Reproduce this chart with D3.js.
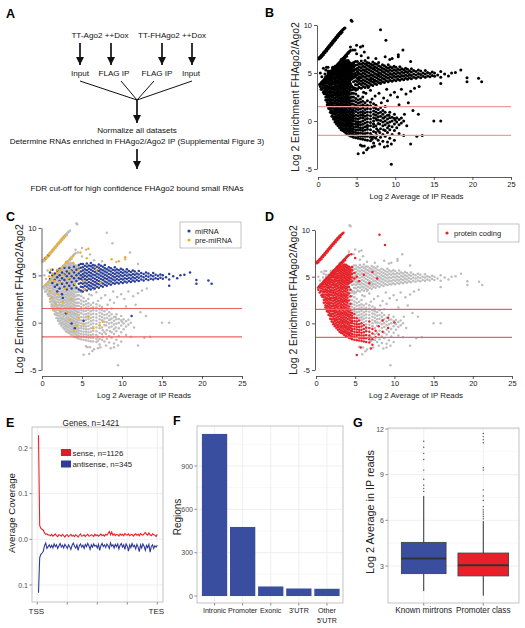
<!DOCTYPE html>
<html><head><meta charset="utf-8">
<script src="https://cdn.jsdelivr.net/npm/d3@7"></script>
<style>body{margin:0;background:#fff}svg{display:block}text{font-family:"Liberation Sans",Arial,Helvetica,sans-serif}</style>
</head><body><svg id="c" width="525" height="628"></svg>
<script>
// ================= DATA =================
// Panel A flowchart text
const flowSamples = ["TT-Ago2 ++Dox", "TT-FHAgo2 ++Dox"];
const flowLibs = ["Input", "FLAG IP", "FLAG IP", "Input"];
const flowSteps = ["Normalize all datasets", "Determine RNAs enriched in FHAgo2/Ago2 IP (Supplemental Figure 3)", "FDR cut-off for high confidence FHAgo2 bound small RNAs"];

// Panels B-D scatter: columns [x, y1, y2, ...] (x = log2 avg IP reads, y = log2 enrichment)
const xTicksScatter = [0, 5, 10, 15, 20, 25];
const yTicksScatter = [-5, 0, 5, 10];
const thresholds = [1.5, -1.5];
const proteinCoding = [
[0.1,6.45,6.6],[0.2,6.55],[0.3,6.7,6.55],[0.4,6.8],[0.5,6.9,6.75],[0.6,6.95],[0.7,7.1,6.9],[0.8,7.15],[0.9,7.3,7.1],[1.0,7.35],[1.1,7.5,7.3],[1.2,7.55],[1.3,7.7,7.5],[1.4,7.75],[1.5,7.9,7.7],[1.6,7.95],[1.7,8.1,7.9],[1.8,8.15],[1.9,8.3,8.1],[2.0,8.35],[2.1,8.5,8.3],[2.2,8.55],[2.3,8.7,8.5],[2.4,8.75],[2.5,8.9,8.7],[2.6,8.95],[2.7,9.1,8.9],[2.8,9.15],[2.9,9.25,9.1],[3.0,9.35],[3.1,9.4,9.25],[3.2,9.5],[3.3,9.55],[3.4,9.65],[3.5,9.7],
[0.3,3.85,3.6],[0.4,3.95],[0.5,4.05,3.9,3.3],[0.6,4.15],[0.7,4.2,4.05,3.0],[0.8,4.3],[0.9,4.4,4.25],[1.0,4.5],[1.1,4.6,4.45],[1.2,4.7],[1.3,4.8,4.6],[1.4,4.85],[1.5,4.95,4.8],[1.6,5.05],[1.7,5.15,5.0],[1.8,5.2],[1.9,5.3,5.15],[2.0,5.4],[2.1,5.5,5.35],[2.2,5.6],[2.3,5.65,5.5],[2.4,5.75],[2.5,5.85,5.7],[2.6,5.95],[2.7,6.05,5.9],[2.8,6.1],[2.9,6.2,6.05],[3.0,6.3],[3.1,6.4,6.25],[3.2,6.5],[3.3,6.55,6.4],[3.4,6.65],[3.5,6.75,6.6],[3.6,6.85],[3.7,6.9,6.75],[3.8,7.0],[3.9,7.1],[4.0,7.2],[4.1,7.25],[4.2,7.35],
[0.6,3.5,3.75],
[0.8,2.85,3.1,3.4,3.7,3.95],
[1.0,2.2,2.5,2.8,3.05,3.35,3.6,3.9,4.15],
[1.2,1.7,1.95,2.25,2.55,2.8,3.1,3.4,3.65,3.95,4.2,4.4],
[1.4,1.3,1.6,1.85,2.15,2.45,2.7,3.0,3.3,3.55,3.85,4.1,4.35,4.6],
[1.6,0.9,1.2,1.45,1.75,2.05,2.3,2.6,2.9,3.15,3.45,3.75,4.0,4.3,4.55,4.75],
[1.8,0.5,0.8,1.05,1.35,1.65,1.9,2.2,2.5,2.75,3.05,3.35,3.6,3.9,4.2,4.45,4.7,4.9],
[2.0,0.2,0.45,0.75,1.0,1.3,1.6,1.85,2.15,2.45,2.7,3.0,3.3,3.55,3.85,4.1,4.4,4.65,4.9,5.1],
[2.2,-0.1,0.15,0.45,0.7,1.0,1.3,1.55,1.85,2.1,2.4,2.7,2.95,3.25,3.5,3.8,4.1,4.35,4.6,4.9,5.1,5.3],
[2.4,-0.3,-0.05,0.25,0.5,0.8,1.1,1.35,1.65,1.9,2.2,2.5,2.75,3.05,3.3,3.6,3.9,4.15,4.45,4.7,4.95,5.2,5.4],
[2.6,-0.5,-0.2,0.05,0.35,0.6,0.9,1.2,1.45,1.75,2.0,2.3,2.6,2.85,3.15,3.4,3.7,4.0,4.25,4.55,4.8,5.05,5.3,5.55],
[2.8,-0.7,-0.4,-0.15,0.15,0.4,0.7,1.0,1.25,1.55,1.8,2.1,2.4,2.65,2.95,3.2,3.5,3.8,4.05,4.35,4.6,4.85,5.1,5.35,5.6,5.8],
[3.0,-0.9,-0.6,-0.35,-0.05,0.2,0.5,0.8,1.05,1.35,1.6,1.9,2.2,2.45,2.75,3.0,3.3,3.6,3.85,4.15,4.4,4.65,4.9,5.15,5.45,5.7,5.95],
[3.2,-1.0,-0.75,-0.45,-0.2,0.1,0.35,0.65,0.95,1.2,1.5,1.75,2.05,2.35,2.6,2.9,3.15,3.45,3.75,4.0,4.3,4.55,4.8,5.05,5.3,5.55,5.8,6.05],
[3.4,-1.1,-0.85,-0.55,-0.3,0.0,0.25,0.55,0.85,1.1,1.4,1.65,1.95,2.25,2.5,2.8,3.05,3.35,3.65,3.9,4.2,4.45,4.7,4.95,5.2,5.45,5.7,5.95,6.2],
[3.6,-1.25,-0.95,-0.7,-0.4,-0.15,0.15,0.4,0.7,1.0,1.25,1.55,1.8,2.1,2.4,2.65,2.95,3.2,3.5,3.8,4.05,4.35,4.6,4.85,5.1,5.35,5.6,5.85,6.1,6.3],
[3.8,-1.35,-1.05,-0.8,-0.5,-0.25,0.05,0.3,0.6,0.9,1.15,1.45,1.7,2.0,2.3,2.55,2.85,3.1,3.4,3.7,3.95,4.25,4.5,4.75,5.0,5.25,5.5,5.75,6.0,6.25],
[4.0,-1.45,-1.15,-0.9,-0.6,-0.35,-0.05,0.2,0.5,0.8,1.05,1.35,1.6,1.9,2.2,2.45,2.75,3.0,3.3,3.6,3.85,4.15,4.4,4.65,4.9,5.15,5.4,5.65,5.9,6.15],
[4.2,-1.55,-1.25,-1.0,-0.7,-0.45,-0.15,0.1,0.4,0.7,0.95,1.25,1.5,1.8,2.45,3.2,3.9,4.3,4.55,4.8,5.05,5.3,5.55,5.8,6.05],
[4.4,-1.6,-1.35,-1.05,-0.8,-0.5,-0.25,0.05,0.3,0.6,0.9,1.15,1.45,2.1,2.9,3.6,4.4,4.7,4.95,5.2,5.45,5.7,5.95],
[4.6,-1.7,-1.4,-1.15,-0.85,-0.6,-0.3,0.0,0.25,0.55,0.8,1.1,4.5,4.9,5.3,5.7,6.0],
[4.9,-1.75,-1.45,-1.2,-0.9,-0.6,-0.35,-0.05,0.25,0.6,1.0,4.8,5.4],
[5.2,-1.8,-1.5,-1.25,-0.95,-0.65,-0.4,-0.1,0.2,0.55,5.0],
[5.5,-1.85,-1.55,-1.25,-0.95,-0.7,-0.4,-0.1,0.3,4.5],
[5.8,-1.9,-1.6,-1.3,-1.0,-0.7,-0.35,0.0],
[6.1,-1.95,-1.6,-1.3,-0.95,-0.6,-0.2,5.2],
[6.4,-2.0,-1.6,-1.25,-0.85,-0.45],
[6.8,-2.05,-1.7,-1.3,-0.9,-0.5,0.2,4.3],
[7.2,-2.3,-1.7,-1.1,-0.6,5.5],
[7.6,-1.5,-0.8],[7.8,4.8],[8.0,-1.2,-0.3],[8.5,-0.9,0.3],[9.2,-0.5,0.6],[10.0,0.1],
[8.1,9.5],[8.8,8.4],[5.2,-3.4],[7.0,-2.7],[5.7,-2.6],[4.5,7.4],[5.0,7.0]
];
const miRNA = [
[0.4,6.75],[0.8,7.1],
[1.0,4.6,5.3],[1.3,4.2,5.0,5.6],[1.6,3.8,4.5,5.2],[1.9,3.3,4.0,4.8,5.5],[2.2,3.6,4.4,5.0,5.7],[2.5,3.0,4.1,4.7,5.3],
[2.8,3.8,4.5,5.1,5.8],[3.1,3.5,4.2,4.9,5.4],[3.4,3.9,4.6,5.2,5.8],[3.7,3.6,4.3,4.9,5.5],[4.0,4.0,4.7,5.3,5.9],[4.3,3.7,4.4,5.0,5.6],
[4.6,3.5,4.1,4.7,5.2,5.7,6.1],[4.85,3.4,3.8,4.2,4.6,5.0,5.4,5.8,6.2],[5.1,3.3,3.75,4.1,4.45,4.8,5.15,5.5,5.85,6.2],
[5.35,3.5,3.9,4.25,4.6,4.95,5.3,5.65,6.0],[5.6,3.4,3.8,4.15,4.5,4.85,5.2,5.55,5.9,6.25],[5.85,3.6,3.95,4.3,4.65,5.0,5.35,5.7,6.05],
[6.1,3.5,3.85,4.2,4.55,4.9,5.25,5.6,5.95,6.3],[6.35,3.7,4.05,4.4,4.75,5.1,5.45,5.8,6.1],[6.6,3.6,3.95,4.3,4.65,5.0,5.35,5.7,6.05],
[6.85,3.8,4.15,4.5,4.85,5.2,5.55,5.9],[7.1,3.7,4.05,4.4,4.75,5.1,5.45,5.8,6.15],[7.35,3.9,4.25,4.6,4.95,5.3,5.65,6.0],
[7.6,3.8,4.15,4.5,4.85,5.2,5.55,5.9],[7.85,4.0,4.35,4.7,5.05,5.4,5.75,6.1],[8.1,3.9,4.25,4.6,4.95,5.3,5.65],
[8.35,4.1,4.45,4.8,5.15,5.5,5.85],[8.6,4.0,4.35,4.7,5.05,5.4,5.75],[8.85,4.2,4.55,4.9,5.25,5.6],[9.1,4.1,4.45,4.8,5.15,5.5,5.85],
[9.35,4.25,4.6,4.95,5.3,5.65],[9.6,4.15,4.5,4.85,5.2,5.55],[9.85,4.3,4.65,5.0,5.35,5.7],[10.1,4.2,4.55,4.9,5.25,5.6],
[10.35,4.35,4.7,5.05,5.4],[10.6,4.25,4.6,4.95,5.3,5.65],[10.85,4.4,4.75,5.1,5.45],[11.1,4.3,4.65,5.0,5.35],
[11.35,4.45,4.8,5.15,5.5],[11.6,4.35,4.7,5.05,5.4],[11.85,4.5,4.85,5.2],[12.1,4.4,4.75,5.1,5.45],[12.4,4.55,4.9,5.25],
[12.7,4.45,4.8,5.15],[13.0,4.6,4.95,5.3],[13.3,4.5,4.85,5.2],[13.6,4.65,5.0],[13.9,4.55,4.9,5.25],[14.2,4.7,5.05],
[14.5,4.6,4.95],[14.8,4.75,5.1],[15.1,4.65,5.0],[15.5,4.8],[15.9,4.55,5.15,3.9],[16.4,4.9],[16.9,4.7],[17.3,5.0],
[17.8,5.05],[18.5,5.3],[19.3,4.5,4.1],[20.8,4.45],[21.2,4.1],
[3.7,-0.1],[5.2,0.2],[11.2,0.7],[4.1,-0.6],[3.0,1.0],[2.6,2.6]
];
const preMiRNA = [
[0.3,6.65],[0.5,6.8],[0.7,7.0],[0.9,7.2],[1.1,7.4],[1.3,7.6],[1.5,7.8],[1.7,8.0],[1.9,8.2],[2.1,8.4],[2.3,8.6],[2.5,8.8],[2.7,9.0],[2.9,9.15],
[0.5,4.0],[0.8,4.3],[1.1,4.55],[1.5,4.9],[1.9,5.25],[2.3,5.6],[2.7,5.95],[3.1,6.3],[3.5,6.7],[3.9,7.05],
[1.4,1.4],[1.2,2.6],[1.0,3.3],[1.7,2.0],[2.0,3.0],[2.3,1.2],[2.6,2.2],[2.9,3.6],[3.1,1.1],[3.4,0.3],[3.7,2.5],
[4.0,-0.8],[4.3,-0.3],[4.6,0.5],[5.2,-0.2],[5.8,0.6],[6.4,-0.6],[7.2,-0.3],[7.6,0.1],[2.2,4.3],[2.7,5.0],[3.3,4.7],
[3.6,5.4],[4.1,4.1],[4.6,5.6],[5.2,4.4],[5.6,6.8],[5.8,7.8],[6.8,5.6],[7.3,4.2],[8.7,6.7],[10.4,6.9],[9.6,6.5],
[4.8,7.4],[5.3,3.5],[3.9,6.3],[1.6,4.4],[1.9,5.6],[1.3,5.2],[0.9,4.9],[1.1,5.6],[3.0,6.4]
];
const otherRNA = [
[4.2,2.1,2.8,3.5],[4.4,1.8,2.5,3.25],[4.6,1.4,1.75,2.1,2.5,2.9,3.3],[4.9,1.3,1.65,2.0,2.35,2.8,3.2],
[5.2,0.85,1.2,1.5,1.85,2.2,2.6],[5.5,0.6,0.9,1.25,1.6,1.95,2.3],[5.8,0.35,0.7,1.0,1.35,1.7,2.05,2.5],
[6.1,0.15,0.5,0.85,1.2,1.55,1.9],[6.4,-0.1,0.25,0.6,0.95,1.3,1.65,2.1],[6.8,-0.15,0.55,0.9,1.25,1.6,1.95],
[7.0,-1.9,-1.5],[7.2,-0.3,0.0,0.35,0.7,1.05,1.4,1.8],[7.5,-1.8,-1.2,-0.5,0.25,0.6,0.95,1.3,1.65],
[7.8,-2.0,-1.0,-0.25,0.1,0.45,0.8,1.2],[8.1,-1.7,-0.8,0.05,0.5,0.9,1.4],[8.4,-2.1,-1.4,-0.5,-0.1,0.3,0.7,1.1],
[8.7,-1.6,-1.0,-0.4,0.0,0.45,0.9,1.5],[9.0,-2.2,-1.2,-0.7,-0.2,0.2,0.6],[9.3,-1.8,-0.9,-0.1,0.35,0.9],
[9.6,-1.4,-0.6,0.0,0.4],[9.9,-2.0,-1.0,-0.3,0.25,0.7],[10.2,-0.7,-0.1,0.35],[10.5,-1.3,-0.4,0.15],
[10.8,-0.2,0.3],[11.1,-1.5,0.0],[11.5,-0.5],[12.0,-2.4],[12.8,-1.6],[13.5,-1.5],[15.0,0.0],[15.9,0.0],[9.5,-4.5],
[5.5,-2.5],[6.0,-2.6],[6.5,-2.8],[7.3,-2.6],[8.0,-2.4],[8.6,-2.7],[9.0,-2.6],[9.5,-2.4],[5.9,-3.3],[6.3,-3.0],
[5.9,3.0],[6.2,2.9],[6.5,3.5],[6.8,3.2],[7.0,2.3],[7.4,2.6],[7.9,2.9],[8.2,1.9],[8.5,2.4],[8.9,3.3],[9.0,2.1],
[9.4,2.7],[9.9,3.0],[10.3,2.5],[10.5,1.7],[10.8,3.3],[11.4,2.8],[11.7,1.9],[12.0,3.1],[12.3,1.1],[12.5,3.4],
[13.0,0.7],[13.1,3.6],
[4.3,10.5],[4.4,10.4],[4.2,7.7],[5.0,7.9],[5.5,7.7],[6.0,7.2],[6.5,6.6],[7.5,6.5],[10.4,6.7],[11.0,7.4],[12.0,6.2],[9.3,6.4],
[0.3,5.0],[0.5,4.6],[0.2,3.8],[0.7,5.5],[0.4,3.3]
];

// Panel E metagene coverage (bins 1..100, TSS -> TES)
const coverageTicks = [0.2, 0.1, 0.0, -0.1];
const coverageTickLabels = ["0.2", "0.1", "0.0", "0.1"];
const senseCov = [0.228,0.03,0.024,0.022,0.02,0.014,0.011,0.012,0.009,0.01,
0.008,0.011,0.007,0.009,0.012,0.008,0.006,0.01,0.009,0.007,
0.011,0.008,0.005,0.009,0.01,0.006,0.008,0.011,0.007,0.009,
0.006,0.01,0.008,0.005,0.009,0.012,0.007,0.008,0.01,0.006,
0.009,0.011,0.007,0.008,0.01,0.009,0.006,0.011,0.008,0.01,
0.007,0.009,0.012,0.008,0.01,0.007,0.011,0.009,0.013,0.017,
0.01,0.016,0.009,0.012,0.008,0.011,0.01,0.007,0.012,0.009,
0.011,0.008,0.013,0.01,0.009,0.012,0.008,0.01,0.011,0.007,
0.01,0.012,0.009,0.011,0.008,0.013,0.01,0.009,0.012,0.015,
0.011,0.009,0.014,0.01,0.008,0.012,0.01,0.009,0.006,0.011];
const antisenseCov = [-0.117,-0.04,-0.033,-0.03,-0.026,-0.014,-0.008,-0.02,-0.016,-0.012,
-0.018,-0.013,-0.019,-0.01,-0.016,-0.012,-0.02,-0.014,-0.009,-0.017,
-0.013,-0.019,-0.011,-0.015,-0.02,-0.012,-0.016,-0.022,-0.013,-0.008,
-0.015,-0.019,-0.012,-0.024,-0.014,-0.01,-0.017,-0.013,-0.02,-0.011,
-0.016,-0.009,-0.014,-0.022,-0.012,-0.017,-0.01,-0.015,-0.013,-0.019,
-0.011,-0.024,-0.014,-0.009,-0.016,-0.012,-0.018,-0.01,-0.014,-0.02,
-0.008,-0.015,-0.012,-0.019,-0.011,-0.016,-0.01,-0.021,-0.013,-0.009,
-0.017,-0.012,-0.022,-0.01,-0.015,-0.026,-0.012,-0.018,-0.009,-0.016,
-0.013,-0.021,-0.011,-0.017,-0.027,-0.012,-0.019,-0.01,-0.015,-0.024,
-0.013,-0.018,-0.011,-0.028,-0.016,-0.012,-0.02,-0.014,-0.017,-0.013];
const coverageLegend = ["sense, n=1126", "antisense, n=345"];

// Panel F
const regionNames = ["Intronic", "Promoter", "Exonic", "3'UTR", "Other\n5'UTR"];
const regionCounts = [1122, 478, 66, 52, 50];
const regionTicks = [0, 300, 600, 900];

// Panel G boxplots
const boxGroups = ["Known mirtrons", "Promoter class"];
const boxLow = [1.35, 1.05];
const boxQ1 = [2.5, 2.35];
const boxMedian = [3.5, 3.05];
const boxQ3 = [4.55, 3.85];
const boxHigh = [7.6, 5.95];
const boxRelWidth = [0.75, 0.85];
const boxOutliers = [[7.9, 8.1, 8.3, 8.7, 9.3, 10.0, 10.4, 10.8, 11.2],
                     [6.1, 6.25, 6.4, 6.55, 6.7, 6.9, 7.3, 7.6, 8.0, 9.3, 9.45, 11.1, 11.3, 11.5, 11.7]];
const boxTicks = [3, 6, 9, 12];

// ================= DRAW =================
const svg = d3.select("#c");
const BLUE = "#3a4ea0", RED = "#e6222a", ORANGE = "#f3b11f", GREY = "#bdbdbd";
const expand = cols => { const o = []; cols.forEach(c => { for (let i = 1; i < c.length; i++) o.push([c[0], c[i]]); }); return o; };
const PC = expand(proteinCoding), MI = expand(miRNA), PRE = expand(preMiRNA), OT = expand(otherRNA);

// panel letters
[["A",6,18],["B",265,17],["C",6,221],["D",265,221],["E",6,427],["F",173,425],["G",353,427]].forEach(([t,x,y]) =>
  svg.append("text").attr("x",x).attr("y",y).attr("font-size",12.5).attr("font-weight","bold").text(t));

// ---------- Panel A ----------
(function(){
  const g = svg.append("g").attr("font-size", 8.1).attr("text-anchor","middle").attr("fill","#111");
  const defs = svg.append("defs");
  defs.append("marker").attr("id","ah").attr("viewBox","0 0 10 10").attr("refX",10).attr("refY",5)
    .attr("markerWidth",5).attr("markerHeight",5).attr("markerUnits","strokeWidth").attr("orient","auto")
    .append("path").attr("d","M0,0 L10,5 L0,10 z").attr("fill","#111");
  const sx = [100, 172];
  g.selectAll("text.s").data(flowSamples).join("text").attr("class","s").attr("x",(d,i)=>sx[i]).attr("y",38).text(d=>d);
  const lx = [80, 111, 162, 192];
  g.selectAll("line.a").data(lx).join("line").attr("class","a").attr("x1",d=>d).attr("x2",d=>d).attr("y1",43).attr("y2",65)
    .attr("stroke","#111").attr("stroke-width",1.7).attr("marker-end","url(#ah)");
  g.selectAll("text.l").data(flowLibs).join("text").attr("class","l").attr("x",(d,i)=>[80,114,157,191][i]).attr("y",76).text(d=>d);
  const fx = [80, 121, 154, 192];
  g.selectAll("line.f").data(fx).join("line").attr("class","f").attr("x1",d=>d).attr("y1",81).attr("x2",137).attr("y2",100).attr("stroke","#111").attr("stroke-width",1);
  g.append("line").attr("x1",137).attr("x2",137).attr("y1",100).attr("y2",123).attr("stroke","#111").attr("stroke-width",1.7).attr("marker-end","url(#ah)");
  g.append("text").attr("x",137).attr("y",133).text(flowSteps[0]);
  g.append("text").attr("x",137).attr("y",144).text(flowSteps[1]);
  g.append("line").attr("x1",137).attr("x2",137).attr("y1",149).attr("y2",169).attr("stroke","#111").attr("stroke-width",1.7).attr("marker-end","url(#ah)");
  g.append("text").attr("x",137).attr("y",191).text(flowSteps[2]);
})();

// ---------- scatter panels ----------
function scatter(o){
  const x = d3.scaleLinear().domain([0,25]).range([o.x0,o.x1]);
  const y = d3.scaleLinear().domain([-5,10]).range([o.yb,o.yt]);
  const g = svg.append("g");
  o.layers.forEach(L => {
    g.append("g").selectAll("circle").data(L.pts).join("circle")
      .attr("cx",d=>x(d[0])).attr("cy",d=>y(d[1])).attr("r",o.r).attr("fill",L.color);
  });
  g.selectAll("line.th").data(thresholds).join("line").attr("class","th")
    .attr("x1",x(0)).attr("x2",x(25)).attr("y1",d=>y(d)).attr("y2",d=>y(d))
    .attr("stroke",o.lineColor).attr("stroke-width",1.1);
  const ax = g.append("g").attr("transform",`translate(0,${o.axisY})`)
    .call(d3.axisBottom(x).tickValues(xTicksScatter).tickSize(3).tickSizeOuter(0).tickPadding(2).tickFormat(d=>String(d)));
  const ay = g.append("g").attr("transform",`translate(${o.axisX},0)`)
    .call(d3.axisLeft(y).tickValues(yTicksScatter).tickSize(3).tickSizeOuter(0).tickPadding(2).tickFormat(d=>String(d)));
  [ax,ay].forEach(a => { a.selectAll("text").attr("font-size",7.5).attr("fill","#222").attr("font-family",null);
    a.selectAll("path,line").attr("stroke","#333").attr("stroke-width",0.8); });
  g.append("text").attr("x",(o.x0+o.x1)/2+2).attr("y",o.axisY+22).attr("text-anchor","middle").attr("font-size",7.9).attr("fill","#222")
    .text("Log 2 Average of IP Reads");
  g.append("text").attr("transform",`translate(${o.axisX-18.5},${(o.yb+o.yt)/2}) rotate(-90)`).attr("text-anchor","middle")
    .attr("font-size",10.4).attr("fill","#222").text("Log 2 Enrichment FHAgo2/Ago2");
  return {g,x,y};
}
scatter({x0:318,x1:511,yb:169,yt:25,axisY:177,axisX:317,lineColor:"#f29b9b",r:1.5,
  layers:[{pts:PC.concat(MI,PRE,OT),color:"#000"}]});
scatter({x0:42,x1:242,yb:370,yt:228,axisY:376,axisX:41.5,lineColor:"#ef6060",r:1.25,
  layers:[{pts:PC.concat(OT),color:GREY},{pts:MI,color:"#2c3f98"},{pts:PRE,color:ORANGE}]});
scatter({x0:316,x1:512,yb:370,yt:230,axisY:376,axisX:315,lineColor:"#ef6060",r:1.25,
  layers:[{pts:MI.concat(PRE,OT),color:GREY},{pts:PC,color:RED}]});
// legends
(function(){
  const lc = svg.append("g");
  lc.append("rect").attr("x",180).attr("y",222).attr("width",61).attr("height",26).attr("fill","#fff").attr("stroke","#999").attr("stroke-width",0.6);
  const items = [["miRNA","#2c3f98"],["pre-miRNA",ORANGE]];
  items.forEach((d,i)=>{ lc.append("circle").attr("cx",189).attr("cy",231+i*9).attr("r",1.6).attr("fill",d[1]);
    lc.append("text").attr("x",195).attr("y",233.7+i*9).attr("font-size",7.5).attr("fill","#222").text(d[0]); });
  const ld = svg.append("g");
  ld.append("rect").attr("x",438).attr("y",224).attr("width",81).attr("height",18).attr("fill","#fff").attr("stroke","#999").attr("stroke-width",0.6);
  ld.append("circle").attr("cx",447).attr("cy",233).attr("r",1.6).attr("fill",RED);
  ld.append("text").attr("x",454).attr("y",235.7).attr("font-size",7.5).attr("fill","#222").text("protein coding");
})();

// ---------- ggplot-like helpers ----------
function panelFrame(x0,y0,x1,y1){
  svg.append("rect").attr("x",x0).attr("y",y0).attr("width",x1-x0).attr("height",y1-y0).attr("fill","#fff");
}
function panelBorder(x0,y0,x1,y1){
  svg.append("rect").attr("x",x0).attr("y",y0).attr("width",x1-x0).attr("height",y1-y0).attr("fill","none").attr("stroke","#b5b5b5").attr("stroke-width",0.8);
}
const GRID = "#ebebeb", TICK = "#555", TL = "#4d4d4d";

// ---------- Panel E ----------
(function(){
  const P = {x0:32,y0:427,x1:163,y1:602};
  panelFrame(P.x0,P.y0,P.x1,P.y1);
  const x = d3.scaleLinear().domain([0,100]).range([37.3,157.3]);
  const y = d3.scaleLinear().domain([-0.1,0.2]).range([585,448]);
  const g = svg.append("g");
  const xt = [0,25,50,75,100];
  g.selectAll("line.gx").data(xt).join("line").attr("x1",d=>x(d)).attr("x2",d=>x(d)).attr("y1",P.y0).attr("y2",P.y1).attr("stroke",GRID).attr("stroke-width",0.8);
  g.selectAll("line.gy").data(coverageTicks).join("line").attr("x1",P.x0).attr("x2",P.x1).attr("y1",d=>y(d)).attr("y2",d=>y(d)).attr("stroke",GRID).attr("stroke-width",0.8);
  const line = d3.line().x((d,i)=>x(i+1)).y(d=>y(d));
  g.append("path").datum(antisenseCov).attr("d",line).attr("fill","none").attr("stroke","#2e3c96").attr("stroke-width",1.1);
  g.append("path").datum(senseCov).attr("d",line).attr("fill","none").attr("stroke","#ee2228").attr("stroke-width",1.1);
  panelBorder(P.x0,P.y0,P.x1,P.y1);
  g.selectAll("line.ty").data(coverageTicks).join("line").attr("x1",P.x0-2.5).attr("x2",P.x0).attr("y1",d=>y(d)).attr("y2",d=>y(d)).attr("stroke",TICK).attr("stroke-width",0.7);
  g.selectAll("text.ty").data(coverageTicks).join("text").attr("x",P.x0-4).attr("y",d=>y(d)+2.5).attr("text-anchor","end").attr("font-size",7).attr("fill",TL).text((d,i)=>coverageTickLabels[i]);
  g.selectAll("line.tx").data(xt).join("line").attr("x1",d=>x(d)).attr("x2",d=>x(d)).attr("y1",P.y1).attr("y2",P.y1+2.5).attr("stroke",TICK).attr("stroke-width",0.7);
  [["TSS",0],["TES",100]].forEach(([t,v])=> g.append("text").attr("x",x(v)-1).attr("y",614).attr("text-anchor","middle").attr("font-size",8).attr("fill","#222").text(t));
  g.append("text").attr("x",91).attr("y",426).attr("text-anchor","middle").attr("font-size",8.3).attr("fill","#222").text("Genes, n=1421");
  g.append("text").attr("transform","translate(15.4,513) rotate(-90)").attr("text-anchor","middle").attr("font-size",9.6).attr("fill","#222").text("Average Coverage");
  const lcol = ["#d71f2a","#2e3c96"];
  coverageLegend.forEach((t,i)=>{
    g.append("rect").attr("x",61).attr("y",449+i*11.5).attr("width",10).attr("height",7).attr("fill",lcol[i]);
    g.append("text").attr("x",72.5).attr("y",455.5+i*11.5).attr("font-size",7.8).attr("fill","#222").text(t);
  });
})();

// ---------- Panel F ----------
(function(){
  const P = {x0:197,y0:426,x1:343,y1:603};
  panelFrame(P.x0,P.y0,P.x1,P.y1);
  const x = d3.scaleBand().domain(regionNames).range([200.5, 341]).paddingInner(0.1).paddingOuter(0.05);
  const y = d3.scaleLinear().domain([0,900]).range([596,466]);
  const g = svg.append("g");
  const minor = [150,450,750,1050];
  g.selectAll("line.gm").data(minor).join("line").attr("x1",P.x0).attr("x2",P.x1).attr("y1",d=>y(d)).attr("y2",d=>y(d)).attr("stroke","#f3f3f3").attr("stroke-width",0.6);
  g.selectAll("line.gy").data(regionTicks).join("line").attr("x1",P.x0).attr("x2",P.x1).attr("y1",d=>y(d)).attr("y2",d=>y(d)).attr("stroke",GRID).attr("stroke-width",0.8);
  g.selectAll("line.gx").data(regionNames).join("line").attr("x1",d=>x(d)+x.bandwidth()/2).attr("x2",d=>x(d)+x.bandwidth()/2).attr("y1",P.y0).attr("y2",P.y1).attr("stroke",GRID).attr("stroke-width",0.8);
  g.selectAll("rect.b").data(regionNames).join("rect").attr("x",d=>x(d)).attr("width",x.bandwidth())
    .attr("y",(d,i)=>y(regionCounts[i])).attr("height",(d,i)=>y(0)-y(regionCounts[i])).attr("fill",BLUE);
  panelBorder(P.x0,P.y0,P.x1,P.y1);
  g.selectAll("line.ty").data(regionTicks).join("line").attr("x1",P.x0-2.5).attr("x2",P.x0).attr("y1",d=>y(d)).attr("y2",d=>y(d)).attr("stroke",TICK).attr("stroke-width",0.7);
  g.selectAll("text.ty").data(regionTicks).join("text").attr("x",P.x0-4).attr("y",d=>y(d)+2.5).attr("text-anchor","end").attr("font-size",7).attr("fill",TL).text(d=>d);
  g.selectAll("line.tx").data(regionNames).join("line").attr("x1",d=>x(d)+x.bandwidth()/2).attr("x2",d=>x(d)+x.bandwidth()/2).attr("y1",P.y1).attr("y2",P.y1+2.5).attr("stroke",TICK).attr("stroke-width",0.7);
  regionNames.forEach(n=>{
    n.split("\n").forEach((t,j)=> g.append("text").attr("x",x(n)+x.bandwidth()/2).attr("y",613+j*10).attr("text-anchor","middle").attr("font-size",7.1).attr("fill","#222").text(t));
  });
  g.append("text").attr("transform","translate(180.6,517) rotate(-90)").attr("text-anchor","middle").attr("font-size",10).attr("fill","#222").text("Regions");
})();

// ---------- Panel G ----------
(function(){
  const P = {x0:388,y0:428,x1:519,y1:603};
  panelFrame(P.x0,P.y0,P.x1,P.y1);
  const unit = (P.x1-P.x0)/2.2;
  const x = d3.scalePoint().domain(boxGroups).range([P.x0+0.6*unit, P.x1-0.6*unit]);
  const y = d3.scaleLinear().domain([3,12]).range([566,429]);
  const g = svg.append("g");
  g.selectAll("line.gm").data([4.5,7.5,10.5]).join("line").attr("x1",P.x0).attr("x2",P.x1).attr("y1",d=>y(d)).attr("y2",d=>y(d)).attr("stroke","#f3f3f3").attr("stroke-width",0.6);
  g.selectAll("line.gy").data(boxTicks).join("line").attr("x1",P.x0).attr("x2",P.x1).attr("y1",d=>y(d)).attr("y2",d=>y(d)).attr("stroke",GRID).attr("stroke-width",0.8);
  g.selectAll("line.gx").data(boxGroups).join("line").attr("x1",d=>x(d)).attr("x2",d=>x(d)).attr("y1",P.y0).attr("y2",P.y1).attr("stroke",GRID).attr("stroke-width",0.8);
  const fills = [BLUE, "#e8202a"];
  boxGroups.forEach((grp,i)=>{
    const cx = x(grp), hw = boxRelWidth[i]*unit/2;
    g.append("line").attr("x1",cx).attr("x2",cx).attr("y1",y(boxLow[i])).attr("y2",y(boxHigh[i])).attr("stroke","#333").attr("stroke-width",1);
    g.append("rect").attr("x",cx-hw).attr("width",2*hw).attr("y",y(boxQ3[i])).attr("height",y(boxQ1[i])-y(boxQ3[i])).attr("fill",fills[i]).attr("stroke","#444").attr("stroke-width",0.9);
    g.append("line").attr("x1",cx-hw).attr("x2",cx+hw).attr("y1",y(boxMedian[i])).attr("y2",y(boxMedian[i])).attr("stroke","#333").attr("stroke-width",2);
    g.selectAll(null).data(boxOutliers[i]).join("circle").attr("cx",cx).attr("cy",d=>y(d)).attr("r",0.7).attr("fill","#555");
  });
  panelBorder(P.x0,P.y0,P.x1,P.y1);
  g.selectAll("line.ty").data(boxTicks).join("line").attr("x1",P.x0-2.5).attr("x2",P.x0).attr("y1",d=>y(d)).attr("y2",d=>y(d)).attr("stroke",TICK).attr("stroke-width",0.7);
  g.selectAll("text.ty").data(boxTicks).join("text").attr("x",P.x0-4).attr("y",d=>y(d)+2.5).attr("text-anchor","end").attr("font-size",7).attr("fill",TL).text(d=>d);
  g.selectAll("line.tx").data(boxGroups).join("line").attr("x1",d=>x(d)).attr("x2",d=>x(d)).attr("y1",P.y1).attr("y2",P.y1+2.5).attr("stroke",TICK).attr("stroke-width",0.7);
  g.selectAll("text.tx").data(boxGroups).join("text").attr("x",d=>x(d)).attr("y",613).attr("text-anchor","middle").attr("font-size",8.2).attr("fill","#222").text(d=>d);
  g.append("text").attr("transform","translate(374,512) rotate(-90)").attr("text-anchor","middle").attr("font-size",10.8).attr("fill","#222").text("Log 2 Average in IP reads");
})();
</script></body></html>
